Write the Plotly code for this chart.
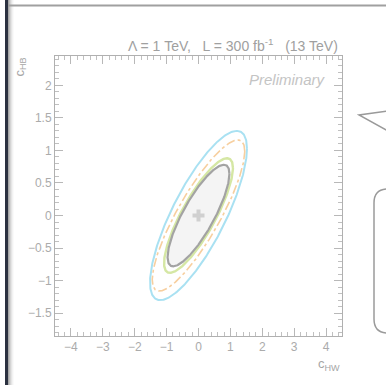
import numpy as np
import plotly.graph_objects as go

# ---- data ----
contour_names = ["cyan", "orange", "green", "gray"]
contour_xmax = [1.52, 1.45, 1.08, 0.97]   # half extent in c_HW
contour_ymax = [1.30, 1.16, 0.88, 0.78]   # half extent in c_HB
contour_rho = [0.79, 0.85, 0.83, 0.82]    # correlation
best_fit_x = [0.0]
best_fit_y = [0.0]
x_ticks = [-4, -3, -2, -1, 0, 1, 2, 3, 4]
y_ticks = [-1.5, -1, -0.5, 0, 0.5, 1, 1.5, 2]

W, H = 386, 385
L_PX, R_PX, T_PX, B_PX = 55, 342, 56, 336

styles = {
    "cyan": dict(color="#a9e1f2", width=2, dash="solid"),
    "orange": dict(color="#f7cf9f", width=1.6, dash="dashdot"),
    "green": dict(color="#d5e7a4", width=2.4, dash="solid"),
    "gray": dict(color="#a3a3a3", width=2.2, dash="solid"),
}

t = np.linspace(0, 2 * np.pi, 361)
fig = go.Figure()
for name, ax, ay, rho in zip(contour_names, contour_xmax, contour_ymax, contour_rho):
    xs = best_fit_x[0] + ax * np.cos(t)
    ys = best_fit_y[0] + ay * (rho * np.cos(t) + np.sqrt(1 - rho ** 2) * np.sin(t))
    kw = {}
    if name == "gray":
        kw = dict(fill="toself", fillcolor="#f4f4f4")
    fig.add_trace(go.Scatter(x=xs, y=ys, mode="lines", line=styles[name],
                             hoverinfo="skip", showlegend=False, **kw))

fig.add_trace(go.Scatter(x=best_fit_x, y=best_fit_y, mode="markers",
                         marker=dict(symbol="cross", size=10, color="#d0d0d0",
                                     line=dict(width=0)),
                         hoverinfo="skip", showlegend=False))

def px(xp):
    return (xp - L_PX) / (R_PX - L_PX)

def py(yp):
    return (B_PX - yp) / (B_PX - T_PX)

shapes = []
# left dark bar with shadow
shapes.append(dict(type="rect", xref="paper", yref="paper", x0=px(5), x1=px(8),
                   y0=py(0), y1=py(H), fillcolor="#2b3140", line=dict(width=0), layer="above"))
for i, a in enumerate([0.35, 0.25, 0.17, 0.1, 0.05, 0.02]):
    shapes.append(dict(type="rect", xref="paper", yref="paper", x0=px(8 + i), x1=px(9 + i),
                       y0=py(0), y1=py(H), fillcolor=f"rgba(0,0,0,{a})", line=dict(width=0)))
# top gray line
shapes.append(dict(type="line", xref="paper", yref="paper", x0=px(8), x1=px(W),
                   y0=py(5.5), y1=py(5.5), line=dict(color="#a0a0a0", width=2)))
# triangle on the right
shapes.append(dict(type="path", xref="paper", yref="paper",
                   path=f"M {px(388)} {py(111)} L {px(359)} {py(115)} L {px(388)} {py(131)}",
                   line=dict(color="#9a9a9a", width=1.5)))
# rounded box on the right
r = 14
x0b, y0b, y1b = 374, 189, 333
path = (f"M {px(390)} {py(y0b)} L {px(x0b + r)} {py(y0b)} "
        f"Q {px(x0b)} {py(y0b)} {px(x0b)} {py(y0b + r)} "
        f"L {px(x0b)} {py(y1b - r)} Q {px(x0b)} {py(y1b)} {px(x0b + r)} {py(y1b)} "
        f"L {px(390)} {py(y1b)}")
shapes.append(dict(type="path", xref="paper", yref="paper", path=path,
                   line=dict(color="#9a9a9a", width=1.5)))

font = "Liberation Sans, Arial, sans-serif"
axis_common = dict(showline=True, linecolor="#b0b0b0", linewidth=1, mirror="ticks",
                   ticks="inside", ticklen=8, tickcolor="#b8b8b8", tickwidth=1,
                   showgrid=False, zeroline=False,
                   tickfont=dict(family=font, size=12, color="#ababab"))

fig.update_layout(
    width=W, height=H,
    margin=dict(l=L_PX, r=W - R_PX, t=T_PX, b=H - B_PX),
    paper_bgcolor="white", plot_bgcolor="white",
    xaxis=dict(range=[-4.5, 4.5], tickvals=x_ticks,
               minor=dict(ticks="inside", ticklen=4, dtick=0.2, tickcolor="#c0c0c0"),
               **axis_common),
    yaxis=dict(range=[-1.85, 2.45], tickvals=y_ticks,
               minor=dict(ticks="inside", ticklen=4, dtick=0.1, tickcolor="#c0c0c0"),
               **axis_common),
    shapes=shapes,
    annotations=[
        dict(text="\u039b = 1 TeV,   L = 300 fb<sup>-1</sup>   (13 TeV)", xref="paper", yref="paper",
             x=px(340), y=py(45), xanchor="right", yanchor="middle", showarrow=False,
             font=dict(family=font, size=14, color="#a0a0a0")),
        dict(text="<i>Preliminary</i>", xref="paper", yref="paper",
             x=px(328), y=py(79), xanchor="right", yanchor="middle", showarrow=False,
             font=dict(family=font, size=15, color="#c4c4c4")),
        dict(text="c<sub>HW</sub>", xref="paper", yref="paper",
             x=px(342), y=py(364), xanchor="right", yanchor="middle", showarrow=False,
             font=dict(family=font, size=13, color="#a6a6a6")),
        dict(text="c<sub>HB</sub>", xref="paper", yref="paper", textangle=-90,
             x=px(20), y=py(56), xanchor="center", yanchor="top", showarrow=False,
             font=dict(family=font, size=13, color="#a6a6a6")),
    ],
)

fig.write_html("out.html", config={"displayModeBar": False},
               post_script="document.body.style.margin='0';")
